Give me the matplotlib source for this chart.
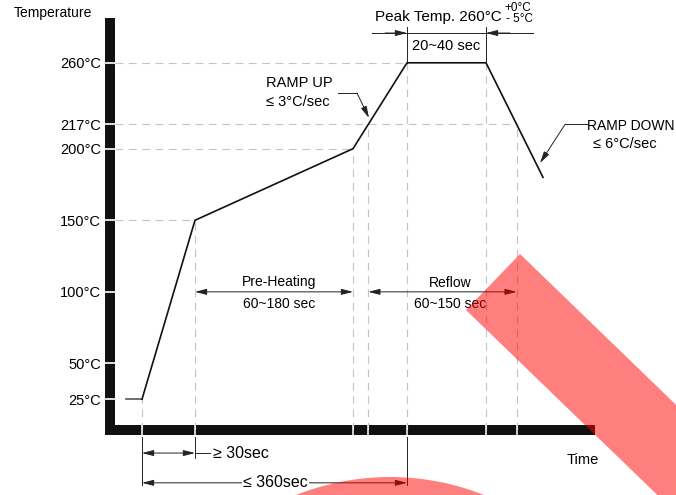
import matplotlib.pyplot as plt
import matplotlib.patches as mpatches
import numpy as np

plt.rcParams['font.family'] = ['Liberation Sans', 'DejaVu Sans']

# schematic reflow profile: time (arbitrary units) vs temperature (deg C)
profile_t = [11, 27, 80, 238, 292, 371, 428]
profile_T = [25, 25, 150, 200, 260, 260, 180]

ytick_vals = [25, 50, 100, 150, 200, 217, 260]
ytick_labels = ['25°C', '50°C', '100°C', '150°C', '200°C', '217°C', '260°C']

liquidus = 217

# where the profile crosses the liquidus on the way up / down
t_up = np.interp(liquidus, [profile_T[3], profile_T[4]], [profile_t[3], profile_t[4]])
t_down = np.interp(liquidus, [profile_T[6], profile_T[5]], [profile_t[6], profile_t[5]])

fig = plt.figure(figsize=(6.76, 4.95), dpi=100)
ax = fig.add_axes([110 / 676, 1 - 430 / 495, 480 / 676, 407 / 495])
ax.set_xlim(-5, 475)
ax.set_ylim(3.5, 287.8)

for s in ['top', 'right']:
    ax.spines[s].set_visible(False)
for s in ['left', 'bottom']:
    ax.spines[s].set_linewidth(7.2)
    ax.spines[s].set_color('#111111')
    ax.spines[s].set_capstyle('projecting')
    ax.spines[s].set_zorder(0.5)

DASH = dict(color='#c4c4c4', lw=0.8, dashes=(7, 5), zorder=1)
DIM = '#222222'
HEAD = '-|>,head_length=0.7,head_width=0.18'

# horizontal guide lines to the profile
guides = {150: profile_t[2], 200: profile_t[3], liquidus: t_down, 260: profile_t[4]}
for T, t in guides.items():
    ax.plot([0, t], [T, T], **DASH)

# vertical guide lines down to the time axis
vlines_t = [profile_t[1], profile_t[2], profile_t[3], t_up, profile_t[4], profile_t[5], t_down]
vlines_T = [25, 150, 200, liquidus, 260, 260, liquidus]
for t, T in zip(vlines_t, vlines_T):
    ax.plot([t, t], [3.5, T], **DASH)

# profile
ax.plot(profile_t[:2], profile_T[:2], color='#555555', lw=1.2, zorder=3)
ax.plot(profile_t[1:], profile_T[1:], color='#111111', lw=1.2, zorder=3)

# ticks as notches in the thick axis bars
ax.set_yticks(ytick_vals)
ax.set_yticklabels(ytick_labels, fontsize=10.5)
ax.tick_params(axis='y', direction='inout', length=9, width=1.3, color='#f0f0f0', pad=2)
ax.set_xticks(vlines_t)
ax.set_xticklabels([])
ax.tick_params(axis='x', direction='inout', length=7, width=1.2, color='#f0f0f0')


def dim(x0, x1, y, style='<|-|>'):
    ax.annotate('', xy=(x1, y), xytext=(x0, y), annotation_clip=False,
                arrowprops=dict(arrowstyle=style + ',head_length=0.7,head_width=0.18',
                                color=DIM, lw=0.7, mutation_scale=10, shrinkA=0, shrinkB=0))


# peak window
y_peak = 280.8
for t in [profile_t[4], profile_t[5]]:
    ax.plot([t, t], [260, 285], color=DIM, lw=0.7, clip_on=False)
ax.plot([257, 418], [y_peak, y_peak], color=DIM, lw=0.7, clip_on=False)
dim(270, profile_t[4], y_peak, '-|>')
dim(395, profile_t[5], y_peak, '-|>')
ax.text(260, 292.3, 'Peak Temp. 260°C', fontsize=11, ha='left', va='center')
ax.text(389, 298.3, '+0°C', fontsize=8.5, ha='left', va='center')
ax.text(391, 290.3, '- 5°C', fontsize=8.5, ha='left', va='center')
ax.text((profile_t[4] + profile_t[5]) / 2, 271.7, '20~40 sec', fontsize=10.5, ha='center', va='center')

# pre-heating and reflow windows
dim(profile_t[2], profile_t[3], 100)
ax.text(164, 107, 'Pre-Heating', fontsize=10, ha='center', va='center')
ax.text(164, 91.5, '60~180 sec', fontsize=10, ha='center', va='center')
dim(t_up, t_down, 100)
ax.text(335, 106.5, 'Reflow', fontsize=10, ha='center', va='center')
ax.text(335, 91.5, '60~150 sec', fontsize=10, ha='center', va='center')

# ramp labels
ax.text(151, 245.8, 'RAMP UP', fontsize=10.5, ha='left', va='center')
ax.text(151, 232.8, '≤ 3°C/sec', fontsize=10.5, ha='left', va='center')
ax.plot([223, 242], [238.9, 238.9], color=DIM, lw=0.7)
ax.annotate('', xy=(254, 221.5), xytext=(242, 238.9),
            arrowprops=dict(arrowstyle=HEAD, color=DIM, lw=0.7,
                            mutation_scale=10, shrinkA=0, shrinkB=0))

ax.text(472, 216.2, 'RAMP DOWN', fontsize=10, ha='left', va='center', clip_on=False)
ax.text(478, 203.6, '≤ 6°C/sec', fontsize=10.5, ha='left', va='center')
ax.plot([450, 472], [216.9, 216.9], color=DIM, lw=0.7)
ax.annotate('', xy=(425, 190), xytext=(450, 216.9),
            arrowprops=dict(arrowstyle=HEAD, color=DIM, lw=0.7,
                            mutation_scale=10, shrinkA=0, shrinkB=0))

# time windows below the axis
for t, yb in [(profile_t[1], -35.0), (profile_t[2], -15.8), (profile_t[4], -35.0)]:
    ax.plot([t, t], [-1.5, yb], color=DIM, lw=0.7, clip_on=False)
dim(profile_t[1], profile_t[2], -12.6)
ax.plot([profile_t[2], 95], [-12.6, -12.6], color=DIM, lw=0.7, clip_on=False)
ax.text(98, -12.6, '≥ 30sec', fontsize=11.5, ha='left', va='center')
dim(profile_t[1], profile_t[4], -33.4)
ax.text(160.5, -33.4, '≤ 360sec', fontsize=11.5, ha='center', va='center',
        bbox=dict(facecolor='white', edgecolor='none', pad=0.5))

ax.text(468, -17.5, 'Time', fontsize=10.5, ha='center', va='center')
fig.text(14 / 676, 1 - 13 / 495, 'Temperature', fontsize=10, ha='left', va='center')

# red overlay marks on the picture
band = mpatches.Polygon([(466 / 676, 1 - 310 / 495), (520 / 676, 1 - 254 / 495),
                         (820 / 676, 1 - 544 / 495), (766 / 676, 1 - 600 / 495)],
                        closed=True, transform=fig.transFigure, facecolor='red', alpha=0.5,
                        edgecolor='none', zorder=10)
fig.add_artist(band)
blob = mpatches.Ellipse((390 / 676, 1 - 731 / 495), 2 * 254 / 676, 2 * 254 / 495,
                        transform=fig.transFigure, facecolor='red', alpha=0.5,
                        edgecolor='none', zorder=10)
fig.add_artist(blob)

fig.savefig('out.png', dpi=100)
